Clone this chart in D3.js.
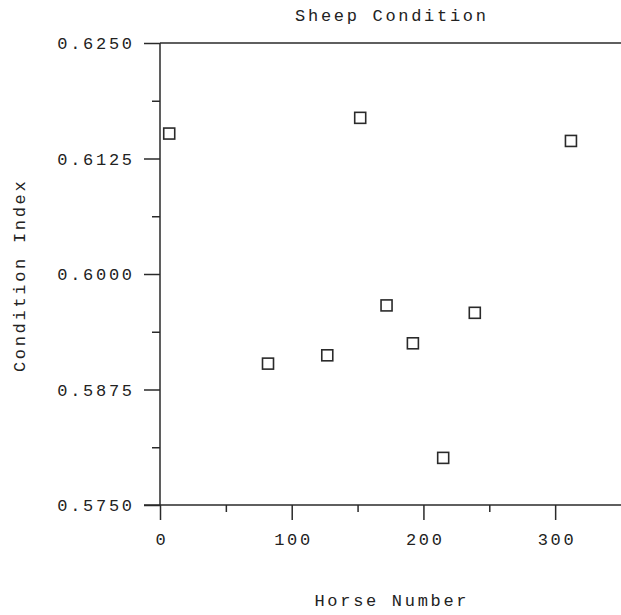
<!DOCTYPE html>
<html>
<head>
<meta charset="utf-8">
<script src="https://cdn.jsdelivr.net/npm/d3@7"></script>
<style>
  html, body { margin: 0; padding: 0; background: #fff; }
  svg text { font-family: "Liberation Mono", "DejaVu Sans Mono", monospace; fill: #222; }
</style>
</head>
<body>
<svg id="chart" width="621" height="615"></svg>
<script>
const horseNumber = [7, 82, 127, 152, 172, 192, 215, 239, 312];
const conditionIndex = [0.6152, 0.5903, 0.5912, 0.6169, 0.5966, 0.5925, 0.5801, 0.5958, 0.6144];
const xMajorTicks = [0, 100, 200, 300];
const xMinorTicks = [50, 150, 250];
const yMajorTicks = [0.5750, 0.5875, 0.6000, 0.6125, 0.6250];
const yMinorTicks = [0.58125, 0.59375, 0.60625, 0.61875];

const svg = d3.select("#chart");
const mLeft = 160, mRight = 621, mTop = 43, mBottom = 505;
const x = d3.scaleLinear().domain([0, 350]).range([mLeft, mRight]);
const y = d3.scaleLinear().domain([0.575, 0.625]).range([mBottom, mTop]);
const ink = "#2a2a2a";
const fs = 17;
const ls = 2.7;

// top border
svg.append("line").attr("x1", x(0)).attr("x2", x(350)).attr("y1", y(0.625)).attr("y2", y(0.625))
  .attr("stroke", ink).attr("stroke-width", 1.5);

// y axis
const yAxis = svg.append("g").attr("transform", `translate(${mLeft},0)`)
  .call(d3.axisLeft(y).tickValues(yMajorTicks).tickSize(16).tickFormat(d3.format(".4f")).tickPadding(12));
yAxis.select(".domain").remove();
yAxis.selectAll(".tick line").attr("stroke", ink).attr("stroke-width", 1.5);
yAxis.selectAll(".tick text").attr("font-size", fs).attr("letter-spacing", ls)
  .attr("dx", ls).attr("dy", "0.33em").attr("fill", "#222").style("font-family", "'Liberation Mono', monospace");

const yMinor = svg.append("g").attr("transform", `translate(${mLeft},0)`)
  .call(d3.axisLeft(y).tickValues(yMinorTicks).tickSize(8).tickFormat(""));
yMinor.select(".domain").remove();
yMinor.selectAll(".tick line").attr("stroke", ink).attr("stroke-width", 1.5);

// x axis
const xAxis = svg.append("g").attr("transform", `translate(0,${mBottom})`)
  .call(d3.axisBottom(x).tickValues(xMajorTicks).tickSize(15).tickFormat(d3.format("d")).tickPadding(13));
xAxis.select(".domain").remove();
xAxis.selectAll(".tick line").attr("stroke", ink).attr("stroke-width", 1.5);
xAxis.selectAll(".tick text").attr("font-size", fs).attr("letter-spacing", ls)
  .attr("dx", ls / 2).attr("dy", "0.68em").attr("fill", "#222").style("font-family", "'Liberation Mono', monospace");

const xMinor = svg.append("g").attr("transform", `translate(0,${mBottom})`)
  .call(d3.axisBottom(x).tickValues(xMinorTicks).tickSize(7).tickFormat(""));
xMinor.select(".domain").remove();
xMinor.selectAll(".tick line").attr("stroke", ink).attr("stroke-width", 1.5);

// axis lines
svg.append("line").attr("x1", x(0)).attr("x2", x(0)).attr("y1", y(0.625)).attr("y2", y(0.575))
  .attr("stroke", ink).attr("stroke-width", 1.5);
svg.append("line").attr("x1", x(0) - 16).attr("x2", x(350)).attr("y1", y(0.575)).attr("y2", y(0.575))
  .attr("stroke", ink).attr("stroke-width", 1.5);

// points
const pts = horseNumber.map((h, i) => ({ h, c: conditionIndex[i] }));
const s = 11;
svg.append("g").selectAll("rect").data(pts).join("rect")
  .attr("x", d => x(d.h) - s / 2).attr("y", d => y(d.c) - s / 2)
  .attr("width", s).attr("height", s)
  .attr("fill", "none").attr("stroke", ink).attr("stroke-width", 1.6);

// titles
svg.append("text").attr("x", (mLeft + mRight) / 2 + ls / 2).attr("y", 21)
  .attr("text-anchor", "middle").attr("font-size", fs).attr("letter-spacing", ls)
  .text("Sheep Condition");
svg.append("text").attr("x", (mLeft + mRight) / 2 + ls / 2).attr("y", 606)
  .attr("text-anchor", "middle").attr("font-size", fs).attr("letter-spacing", ls)
  .text("Horse Number");
svg.append("text")
  .attr("transform", `translate(25,${(mTop + mBottom) / 2 + ls / 2}) rotate(-90)`)
  .attr("text-anchor", "middle").attr("font-size", fs).attr("letter-spacing", ls)
  .text("Condition Index");
</script>
</body>
</html>
